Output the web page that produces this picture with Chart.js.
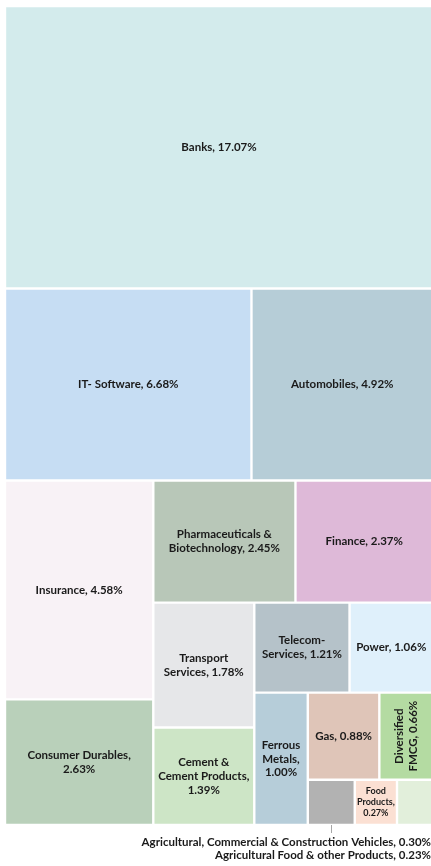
<!DOCTYPE html>
<html>
<head>
<meta charset="utf-8">
<script src="https://cdn.jsdelivr.net/npm/chart.js@4.4.1/dist/chart.umd.min.js"></script>
<style>
  html, body { margin: 0; padding: 0; background: #ffffff; overflow: hidden; width: 431px; height: 866px; }
  #wrap { width: 433px; height: 866px; }
</style>
</head>
<body>
<div id="wrap"><canvas id="c" width="433" height="866"></canvas></div>
<script>
// ---- data (sector weights, % of net assets) ----
// each category is a list of label lines; an empty last line puts the value on its own line
const categories = [
  ['Banks'],
  ['IT- Software'],
  ['Automobiles'],
  ['Insurance'],
  ['Consumer Durables', ''],
  ['Pharmaceuticals &', 'Biotechnology'],
  ['Finance'],
  ['Transport', 'Services'],
  ['Cement &', 'Cement Products', ''],
  ['Telecom-', 'Services'],
  ['Power'],
  ['Ferrous', 'Metals', ''],
  ['Gas'],
  ['Diversified', 'FMCG'],
  ['Agricultural, Commercial & Construction Vehicles'],
  ['Food', 'Products', ''],
  ['Agricultural Food & other Products']
];
const values = [17.07, 6.68, 4.92, 4.58, 2.63, 2.45, 2.37, 1.78, 1.39, 1.21, 1.06, 1.00, 0.88, 0.66, 0.30, 0.27, 0.23];
const colors = [
  '#D3EBEC', '#C6DDF3', '#B6CDD7', '#F8F2F6', '#B9D0BA', '#B8C7B8', '#DEB9D8',
  '#E6E7E9', '#CDE5C6', '#B5C2C9', '#DFF0FB', '#B6CDD9', '#DFC5B8', '#B4DBA2',
  '#B2B2B2', '#FBE0D3', '#E2EFDB'
];

// ---- squarified layout (target aspect parameter) ----
const RATIO = 0.807;
function worstScore(row, side, r) {
  const sum = row.reduce((a, b) => a + b, 0);
  const t = sum / side;
  let m = 0;
  for (const a of row) {
    const l = a / t;
    m = Math.max(m, r * l / t, t / (l * r));
  }
  return m;
}
function squarify(vals, W, H, r) {
  const total = vals.reduce((a, b) => a + b, 0);
  const areas = vals.map(v => v * W * H / total);
  const out = [];
  let rx = 0, ry = 0, rw = W, rh = H, i = 0;
  while (i < areas.length) {
    const rowAlongWidth = rw <= rh;
    const side = rowAlongWidth ? rw : rh;
    let row = [areas[i]], j = i + 1;
    let best = worstScore(row, side, r);
    while (j < areas.length) {
      const cand = row.concat(areas[j]);
      const s = worstScore(cand, side, r);
      if (s > best) break;
      row = cand; best = s; j++;
    }
    const sum = row.reduce((a, b) => a + b, 0);
    let thick = sum / side;
    if (j >= areas.length) thick = rowAlongWidth ? rh : rw;
    let off = 0;
    row.forEach((a, k) => {
      const len = (k === row.length - 1) ? side - off : a / thick;
      if (rowAlongWidth) out.push({ x: rx + off, y: ry, w: len, h: thick });
      else out.push({ x: rx, y: ry + off, w: thick, h: len });
      off += len;
    });
    if (rowAlongWidth) { ry += thick; rh -= thick; } else { rx += thick; rw -= thick; }
    i = j;
  }
  return out;
}

// ---- treemap controller drawing bar elements through the chart's scales ----
class TreemapController extends Chart.DatasetController {
  getMinMax() { return { min: 0, max: 1 }; }
  update(mode) {
    const meta = this._cachedMeta;
    this.updateElements(meta.data, 0, meta.data.length, mode);
  }
  updateElements(rects, start, count, mode) {
    const meta = this._cachedMeta;
    const xs = meta.xScale, ys = meta.yScale;
    const area = this.chart.chartArea;
    const W = area.right - area.left, H = area.bottom - area.top;
    const cells = squarify(this.getDataset().data, W, H, RATIO);
    for (let i = start; i < start + count; i++) {
      const c = cells[i];
      const x0 = xs.getPixelForValue(c.x / W), x1 = xs.getPixelForValue((c.x + c.w) / W);
      const y0 = ys.getPixelForValue(c.y / H), y1 = ys.getPixelForValue((c.y + c.h) / H);
      const options = this.resolveDataElementOptions(i, mode);
      this.updateElement(rects[i], i, {
        x: (x0 + x1) / 2, y: Math.min(y0, y1), base: Math.max(y0, y1),
        width: Math.abs(x1 - x0), height: Math.abs(y1 - y0), horizontal: false,
        borderSkipped: {}, inflateAmount: 0, enableBorderRadius: false, options
      }, mode);
    }
  }
}
TreemapController.id = 'treemapx';
TreemapController.defaults = { dataElementType: 'bar', datasetElementType: false };
Chart.register(TreemapController);

// ---- labels ----
const FONT = 'Lato, "Open Sans", sans-serif';
const TEXT = '#1a1a1a';
function labelLines(i) {
  const lines = categories[i].slice();
  const v = values[i].toFixed(2) + '%';
  if (lines.length > 1 && lines[lines.length - 1] === '') {
    lines[lines.length - 2] += ',';
    lines[lines.length - 1] = v;
  } else {
    lines[lines.length - 1] += ', ' + v;
  }
  return lines;
}
function fullLabel(i) {
  return categories[i].filter(s => s).join(' ') + ', ' + values[i].toFixed(2) + '%';
}

const labelPlugin = {
  id: 'cellLabels',
  afterDatasetsDraw(chart) {
    const ctx = chart.ctx;
    const meta = chart.getDatasetMeta(0);
    const outside = [];
    ctx.save();
    ctx.fillStyle = TEXT;
    ctx.textAlign = 'center';
    ctx.textBaseline = 'middle';
    meta.data.forEach((el, i) => {
      const { x, y, base, width } = el.getProps(['x', 'y', 'base', 'width'], true);
      const left = x - width / 2, top = Math.min(y, base);
      const w = width, h = Math.abs(base - y);
      const cx = left + w / 2, cy = top + h / 2;
      const lines = labelLines(i);
      let fit = null;
      for (let fs = 11.5; fs >= 8; fs -= 0.5) {
        ctx.font = `bold ${fs}px ${FONT}`;
        const lh = fs * 1.2;
        const tw = Math.max(...lines.map(l => ctx.measureText(l).width));
        const th = lines.length * lh;
        const pad = fs > 10 ? 4 : 2;
        if (tw <= w - 2 * pad && th <= h - 2 * pad) { fit = { fs, lh, rot: false }; break; }
        if (fs === 11.5 && tw <= h - 2 * pad && th <= w - 2 * pad) { fit = { fs, lh, rot: true }; break; }
      }
      if (!fit) { outside.push({ i, cx, bottom: top + h }); return; }
      ctx.font = `bold ${fit.fs}px ${FONT}`;
      ctx.save();
      ctx.translate(cx, cy);
      if (fit.rot) ctx.rotate(-Math.PI / 2);
      lines.forEach((l, k) => {
        ctx.fillText(l, 0, (k - (lines.length - 1) / 2) * fit.lh);
      });
      ctx.restore();
    });
    // labels that do not fit go below the plot, right aligned
    const right = 431;
    ctx.font = `bold 11.5px ${FONT}`;
    ctx.textAlign = 'right';
    outside.forEach((o, k) => {
      const ly = chart.chartArea.bottom + 17.5 + k * 12.5;
      if (k === 0) {
        ctx.strokeStyle = '#a6a6a6';
        ctx.lineWidth = 1;
        ctx.beginPath();
        ctx.moveTo(Math.round(o.cx) + 0.5, o.bottom);
        ctx.lineTo(Math.round(o.cx) + 0.5, o.bottom + 8);
        ctx.stroke();
      }
      ctx.fillText(fullLabel(o.i), right, ly);
    });
    ctx.restore();
  }
};

new Chart(document.getElementById('c'), {
  type: 'treemapx',
  data: {
    labels: categories,
    datasets: [{
      data: values,
      backgroundColor: colors,
      borderColor: '#ffffff',
      borderWidth: 1.2
    }]
  },
  options: {
    responsive: false,
    devicePixelRatio: 1,
    animation: false,
    events: [],
    layout: { padding: { left: 5, top: 6, right: 0, bottom: 41 } },
    scales: {
      x: { type: 'linear', min: 0, max: 1, display: false },
      y: { type: 'linear', min: 0, max: 1, reverse: true, display: false }
    },
    plugins: { legend: { display: false }, tooltip: { enabled: false } }
  },
  plugins: [labelPlugin]
});
</script>
</body>
</html>
